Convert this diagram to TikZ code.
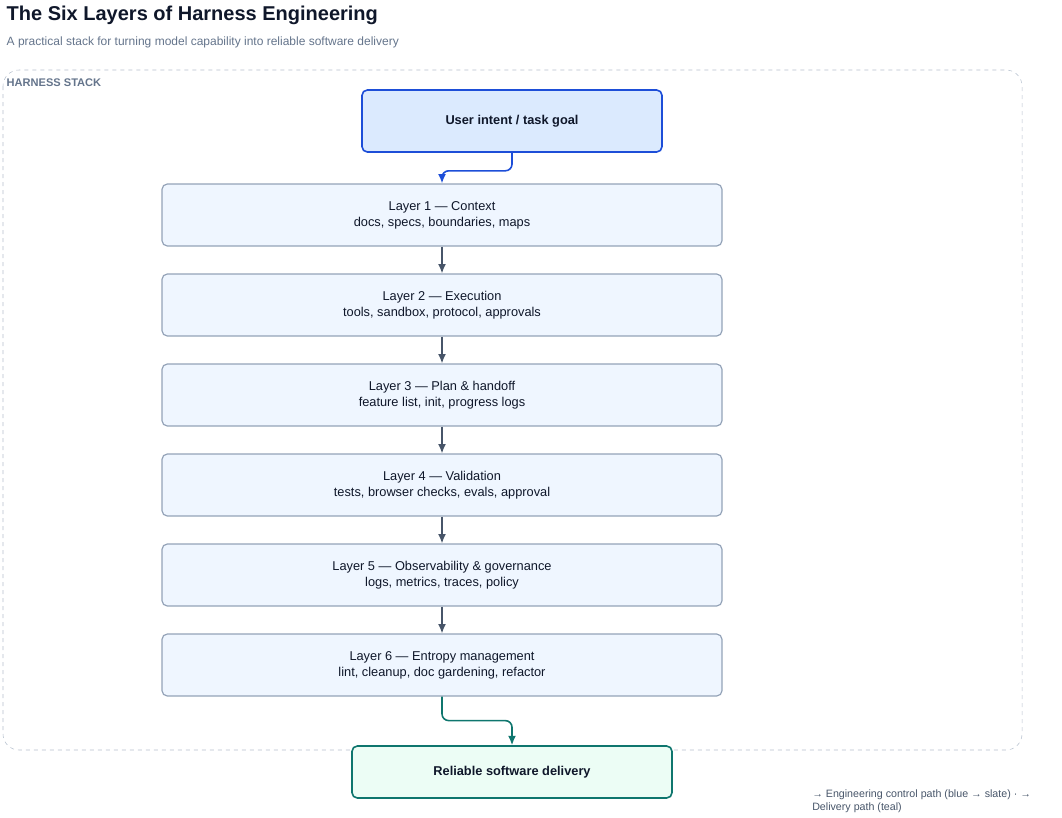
\documentclass[tikz,border=0pt]{standalone}
\usepackage{fontspec}
\setmainfont{Liberation Sans}
\usetikzlibrary{positioning}
\usetikzlibrary{shapes}
\usetikzlibrary{arrows.meta}
\definecolor{ink}{HTML}{0F172A}
\definecolor{slate}{HTML}{475569}
\definecolor{muted}{HTML}{64748B}
\definecolor{edge}{HTML}{94A3B8}
\definecolor{blueline}{HTML}{1D4ED8}
\definecolor{bluefill}{HTML}{DBEAFE}
\definecolor{layerfill}{HTML}{EFF6FF}
\definecolor{tealline}{HTML}{0F766E}
\definecolor{tealfill}{HTML}{ECFDF5}
\tikzset{>={Latex[length=7pt,width=6pt]}}

\begin{document}
\begin{tikzpicture}[x=0.75pt, y=-0.75pt,
            layer/.style={draw=edge, fill=layerfill, rounded corners=4pt, line width=0.9pt,
                minimum width=420pt, minimum height=46.5pt, align=center,
                font=\fontsize{9.6}{12}\selectfont, text=ink},
            goal/.style={draw=blueline, fill=bluefill, rounded corners=4pt, line width=1.2pt,
                minimum width=225pt, minimum height=46.5pt, font=\bfseries\fontsize{9.6}{12}\selectfont, text=ink},
            done/.style={draw=tealline, fill=tealfill, rounded corners=4pt, line width=1.2pt,
                minimum width=240pt, minimum height=39pt, font=\bfseries\fontsize{9.6}{12}\selectfont, text=ink},
            flow/.style={->, draw=slate, line width=1.1pt}
        ]
            \useasboundingbox (0,0) rectangle (1062,817);
            % title
            \node[anchor=west, font=\bfseries\fontsize{15}{18}\selectfont, text=ink] (title) at (2,15) {The Six Layers of Harness Engineering};
            \node[anchor=west, font=\fontsize{9}{11}\selectfont, text=muted] (subtitle) at (2,42) {A practical stack for turning model capability into reliable software delivery};
            % container
            \draw[draw=edge!70, dashed, rounded corners=12pt] (3,70) rectangle (1022,750);
            \node[anchor=west, font=\bfseries\fontsize{8.3}{10}\selectfont, text=muted] (stack) at (2,83) {HARNESS STACK};
            % nodes
            \node[goal] (intent) at (512,121) {User intent / task goal};
            \node[layer] (lone) at (442,215) {Layer 1 — Context\\docs, specs, boundaries, maps};
            \node[layer] (ltwo) at (442,305) {Layer 2 — Execution\\tools, sandbox, protocol, approvals};
            \node[layer] (lthree) at (442,395) {Layer 3 — Plan \& handoff\\feature list, init, progress logs};
            \node[layer] (lfour) at (442,485) {Layer 4 — Validation\\tests, browser checks, evals, approval};
            \node[layer] (lfive) at (442,575) {Layer 5 — Observability \& governance\\logs, metrics, traces, policy};
            \node[layer] (lsix) at (442,665) {Layer 6 — Entropy management\\lint, cleanup, doc gardening, refactor};
            \node[done] (deliver) at (512,772) {Reliable software delivery};
            % paths
            \draw[->, draw=blueline, line width=1.2pt, rounded corners=5pt] (intent.south) -- ++(0,18) -| (lone.north);
            \draw[flow] (lone) -- (ltwo);
            \draw[flow] (ltwo) -- (lthree);
            \draw[flow] (lthree) -- (lfour);
            \draw[flow] (lfour) -- (lfive);
            \draw[flow] (lfive) -- (lsix);
            \draw[->, draw=tealline, line width=1.2pt, rounded corners=5pt] (lsix.south) -- ++(0,24) -| (deliver.north);
            % legend
            \node[anchor=north west, align=left, font=\fontsize{8}{10}\selectfont, text=slate, inner sep=0pt] (legend) at (812,789)
                {→ Engineering control path (blue → slate) · →\\Delivery path (teal)};
        \end{tikzpicture}
\end{document}
